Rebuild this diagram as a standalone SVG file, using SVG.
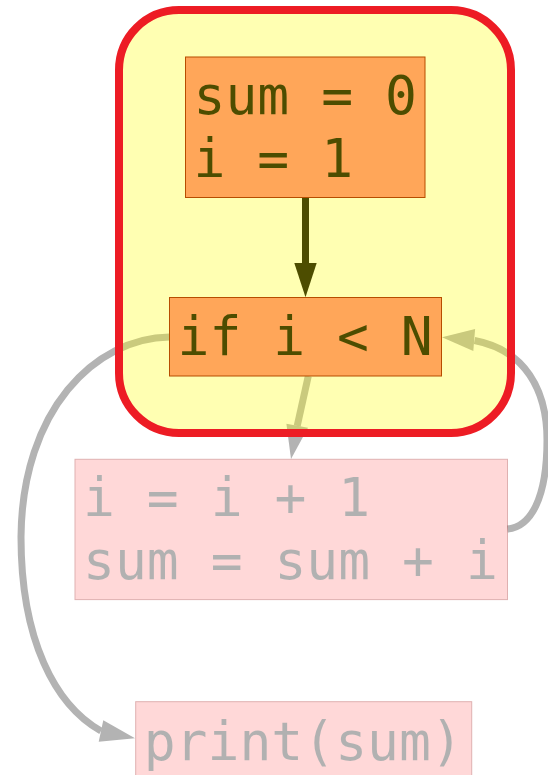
<svg xmlns="http://www.w3.org/2000/svg" width="548" height="775" viewBox="0 0 548 775">
  <style>
    .node rect { fill: #ff8080; stroke: #990000; stroke-width: 1; }
    .node text { font-family: "DejaVu Sans Mono", "Liberation Mono", monospace; font-size: 53px; fill: #000000; }
    .faded { opacity: 0.3; }
    .edge { fill: none; stroke-width: 7; }
    .dark { stroke: #000000; }
    .grey { stroke: #b3b3b3; }
    .head-dark { fill: #000000; stroke: none; }
    .head-grey { fill: #b3b3b3; stroke: none; }
    .cluster { fill: #ffff00; fill-opacity: 0.3; stroke: #ed1c24; stroke-width: 8; }
  </style>
  <rect width="548" height="775" fill="#ffffff"/>

  <g id="connectors">
    <g id="e_init_cond">
      <path class="edge dark" d="M305.5,197.5 L305.5,264"/>
      <polygon class="head-dark" points="294.3,263 316.7,263 305.5,297.3"/>
    </g>
    <g id="e_cond_body">
      <path class="edge grey" d="M308.3,376 L297.2,426"/>
      <polygon class="head-grey" points="286.4,423.8 308,427.8 291,459"/>
    </g>
    <g id="e_cond_print">
      <path class="edge grey" d="M169.5,337 C95,338 22,410 21,537 C21,640 55,705 101,731"/>
      <polygon class="head-grey" points="103.3,720.2 98.7,741.8 135,738.3"/>
    </g>
    <g id="e_body_cond">
      <path class="edge grey" d="M507.5,529 C530,527 547,500 547,440 C547,390 525,350 474.5,340.5"/>
      <polygon class="head-grey" points="475.1,329 473.3,351 442,337.3"/>
    </g>
  </g>

  <g id="n_init" class="node">
    <rect x="185.5" y="57" width="239.5" height="140.5"/>
    <text x="193.5" y="114">sum = 0</text>
    <text x="193.5" y="176.7">i = 1</text>
  </g>
  <g id="n_cond" class="node">
    <rect x="169.5" y="297.5" width="272" height="78.5"/>
    <text x="177.5" y="354.5">if i &lt; N</text>
  </g>
  <g id="n_body" class="node faded">
    <rect x="75" y="459.3" width="432.5" height="140.3"/>
    <text x="83" y="516.3">i = i + 1</text>
    <text x="83" y="579">sum = sum + i</text>
  </g>
  <g id="n_print" class="node faded">
    <rect x="135.7" y="701.7" width="336" height="78.5"/>
    <text x="143.7" y="760">print(sum)</text>
  </g>

  <g id="cluster_init">
    <rect class="cluster" x="119" y="10" width="392" height="423" rx="60" ry="60"/>
  </g>
</svg>
